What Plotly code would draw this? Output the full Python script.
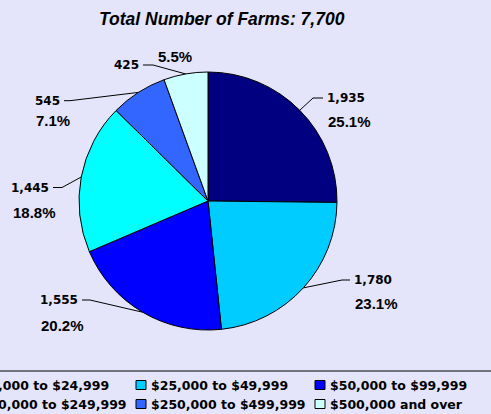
import plotly.graph_objects as go
import math

# ---- data ----
categories = ["$10,000 to $24,999", "$25,000 to $49,999", "$50,000 to $99,999",
              "$100,000 to $249,999", "$250,000 to $499,999", "$500,000 and over"]
farms = [1935, 1780, 1555, 1445, 545, 425]
total_farms = 7700
colors = ["#000080", "#00CCFF", "#0000FF", "#00FFFF", "#3366FF", "#CCFFFF"]

W, H = 491, 414
BG = "#E4E4FA"

def px(x):
    return x / W

def py(y):
    return 1 - y / H

# pie geometry (pixels)
cx, cy, r = 208, 201, 129

fig = go.Figure()
fig.add_trace(go.Pie(
    labels=categories, values=farms, sort=False, direction="clockwise", rotation=0,
    marker=dict(colors=colors, line=dict(color="black", width=1)),
    textinfo="none", showlegend=False, hoverinfo="label+value",
    domain=dict(x=[px(cx - r), px(cx + r)], y=[py(cy + r), py(cy - r)]),
))

# label layout: (knee_x, knee_y, end_x, side, pct_cx, pct_cy)
label_layout = [
    (313, 98, 323, "left", 349.5, 122),
    (342, 280, 350, "left", 376, 303.5),
    (90, 300, 82, "right", 62.8, 325),
    (62, 187.5, 53, "right", 34.8, 212),
    (70, 100.7, 64, "right", 52.8, 121),
    (153, 65, 143, "right", 175.3, 57),
]

annotations = []
shapes = []
tot = sum(farms)
cum = 0
for v, lay in zip(farms, label_layout):
    mid = (cum + v / 2) / tot
    cum += v
    ang = 2 * math.pi * mid
    ex = cx + r * math.sin(ang)
    ey = cy - r * math.cos(ang)
    kx, ky, endx, side, pcx, pcy = lay
    shapes.append(dict(type="path", xref="paper", yref="paper",
                       path=f"M {px(ex)},{py(ey)} L {px(kx)},{py(ky)} L {px(endx)},{py(ky)}",
                       line=dict(color="black", width=1)))
    tx = endx + 2 if side == "left" else endx - 2
    annotations.append(dict(x=px(tx), y=py(ky), xref="paper", yref="paper",
                            xanchor=side, yanchor="middle", showarrow=False,
                            text=f"{v:,}",
                            font=dict(family="DejaVu Sans", size=12, color="black", weight="bold")))
    pct = v / total_farms * 100
    annotations.append(dict(x=px(pcx), y=py(pcy), xref="paper", yref="paper",
                            xanchor="center", yanchor="middle", showarrow=False,
                            text=f"{pct:.1f}%",
                            font=dict(family="Liberation Sans, Arial", size=15, color="black", weight="bold")))

# titles
annotations.append(dict(x=px(222), y=py(19), xref="paper", yref="paper", xanchor="center",
                        yanchor="middle", showarrow=False,
                        text="<b><i>Total Number of Farms: 7,700</i></b>",
                        font=dict(family="Liberation Sans, Arial", size=17.5, color="black")))
annotations.append(dict(x=px(222), y=py(1), xref="paper", yref="paper", xanchor="center",
                        yanchor="bottom", showarrow=False,
                        text="<b><i>Farms by Value of Sales, 2002</i></b>",
                        font=dict(family="Liberation Sans, Arial", size=24, color="#0000FF")))

# legend (drawn manually, cropped like the reference)
shapes.append(dict(type="line", xref="paper", yref="paper", x0=px(-10), x1=px(W + 10),
                   y0=py(371), y1=py(371), line=dict(color="black", width=1)))
col_x = [-43, 136, 315]
row_y = [385, 404]
for i, (cat, col) in enumerate(zip(categories, colors)):
    r_i, c_i = divmod(i, 3)
    sx, sy = col_x[c_i], row_y[r_i]
    shapes.append(dict(type="rect", xref="paper", yref="paper",
                       x0=px(sx), x1=px(sx + 10), y0=py(sy + 4.5), y1=py(sy - 4.5),
                       fillcolor=col, line=dict(color="black", width=1)))
    annotations.append(dict(x=px(sx + 13), y=py(sy), xref="paper", yref="paper",
                            xanchor="left", yanchor="middle", showarrow=False, text=cat,
                            font=dict(family="DejaVu Sans", size=12.5, color="black", weight="bold")))

fig.update_layout(width=W, height=H, margin=dict(l=0, r=0, t=0, b=0),
                  paper_bgcolor=BG, plot_bgcolor=BG,
                  annotations=annotations, shapes=shapes, showlegend=False)
fig.write_html("out.html", config={"displayModeBar": False},
               post_script="document.body.style.margin='0';document.body.style.overflow='hidden';")
